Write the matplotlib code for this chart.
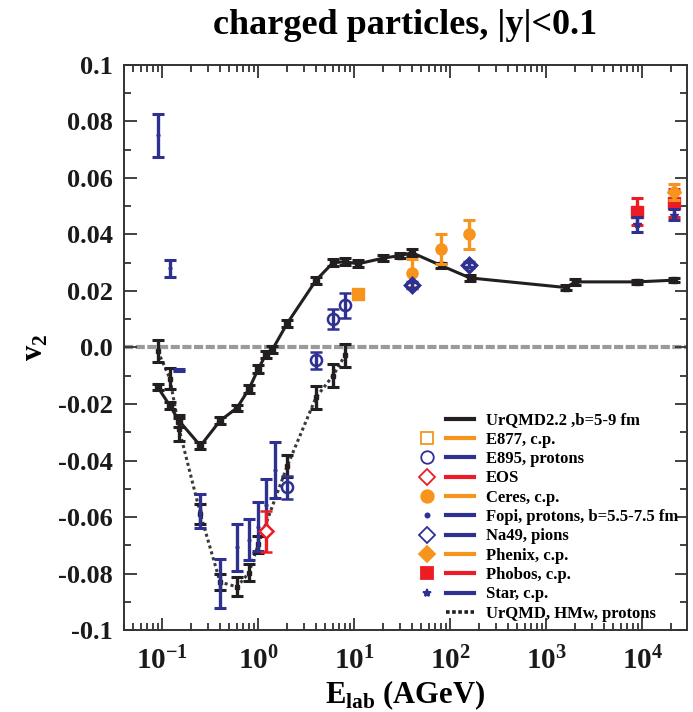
import matplotlib
matplotlib.use("Agg")
import matplotlib.pyplot as plt
from matplotlib.lines import Line2D
from matplotlib.legend_handler import HandlerTuple
from matplotlib.ticker import FuncFormatter, MultipleLocator, LogLocator

plt.rcParams['font.family'] = ['Liberation Serif', 'DejaVu Serif']
plt.rcParams['font.weight'] = 'bold'
plt.rcParams['axes.labelweight'] = 'bold'

BLACK = '#231f20'
BLUE = '#2e3192'
ORANGE = '#f7941d'
RED = '#ed1c24'

# UrQMD 2.2, b=5-9 fm (solid)
urqmd_e = [0.09, 0.12, 0.15, 0.25, 0.4, 0.6, 0.8, 1.0, 1.2, 1.4, 2.0, 4.0, 6.0, 8.0,
           11.0, 20.0, 30.0, 40.0, 80.0, 160.0, 1600.0, 2000.0, 8800.0, 21300.0]
urqmd_v2 = [-0.0141, -0.0206, -0.026, -0.0348, -0.0259, -0.0214, -0.0147, -0.0076,
            -0.0025, -0.0008, 0.0085, 0.0238, 0.0300, 0.0303, 0.0296, 0.0316, 0.0325,
            0.0335, 0.0290, 0.0246, 0.0212, 0.0232, 0.0232, 0.0238]
urqmd_err = [0.0010, 0.0012, 0.0020, 0.0012, 0.0012, 0.0012, 0.0015, 0.0015, 0.0012,
             0.0012, 0.0012, 0.0012, 0.0012, 0.0012, 0.0012, 0.0010, 0.0010, 0.0012,
             0.0010, 0.0010, 0.0010, 0.0010, 0.0008, 0.0008]

# UrQMD, HMw, protons (dotted)
hmw_e = [0.09, 0.12, 0.15, 0.25, 0.4, 0.6, 0.8, 1.0, 2.0, 4.0, 6.0, 8.0]
hmw_v2 = [-0.0013, -0.011, -0.029, -0.059, -0.083, -0.0847, -0.0797, -0.0696,
          -0.042, -0.0176, -0.010, -0.0028]
hmw_err = [0.0038, 0.0038, 0.0040, 0.0035, 0.0027, 0.0034, 0.0030, 0.0030,
           0.0040, 0.0040, 0.0040, 0.0040]

# experiments
fopi_e = [0.09, 0.12, 0.15, 0.25, 0.4, 0.6, 0.8, 1.0, 1.2, 1.5]
fopi_v2 = [0.075, 0.028, -0.008, -0.058, -0.0835, -0.0707, -0.068, -0.0634, -0.0557, -0.0433]
fopi_err = [0.0075, 0.003, 0.0005, 0.006, 0.0086, 0.0084, 0.0073, 0.0086, 0.0092, 0.0098]

eos_e = [1.2]
eos_v2 = [-0.065]
eos_err = [0.0072]

e895_e = [2.0, 4.0, 6.0, 8.0]
e895_v2 = [-0.0495, -0.0046, 0.0102, 0.0149]
e895_err = [0.004, 0.003, 0.0035, 0.0045]

e877_e = [11.0]
e877_v2 = [0.019]
e877_err = [0.001]

ceres_e = [40.0, 80.0, 158.0]
ceres_v2 = [0.0264, 0.035, 0.040]
ceres_err = [0.005, 0.0053, 0.005]

na49_e = [40.0, 158.0]
na49_v2 = [0.022, 0.0293]
na49_err = [0.001, 0.001]

phenix_e = [21300.0]
phenix_v2 = [0.055]
phenix_err = [0.003]

phobos_e = [8800.0, 21300.0]
phobos_v2 = [0.048, 0.0512]
phobos_err = [0.0048, 0.005]

star_e = [8800.0, 21300.0]
star_v2 = [0.0435, 0.047]
star_err = [0.0025, 0.002]

fig = plt.figure(figsize=(6.93, 7.12), dpi=100)
ax = fig.add_axes([0.179, 0.115, 0.812, 0.794])

ax.axhline(0, color='#9a9a9a', lw=3, dashes=(2.2, 0.6), zorder=1)

eb = dict(elinewidth=2.4, capsize=4, capthick=2.2, ls='none')

ax.plot(hmw_e, hmw_v2, ls=(0, (1, 1)), lw=2.2, color='#3a3a3a', zorder=2)
ax.errorbar(hmw_e, hmw_v2, yerr=hmw_err, fmt='s', ms=3.5, color=BLACK, zorder=3, **eb)
ax.plot(urqmd_e, urqmd_v2, ls='-', lw=2.2, color=BLACK, zorder=2)
ax.errorbar(urqmd_e, urqmd_v2, yerr=urqmd_err, fmt='s', ms=4.5, color=BLACK, zorder=3, **eb)

ax.errorbar(fopi_e, fopi_v2, yerr=fopi_err, fmt='o', ms=2, color=BLUE, zorder=4, **eb)
ax.errorbar(eos_e, eos_v2, yerr=eos_err, fmt='D', ms=7, mfc='white', mew=1.8, color=RED, zorder=5, **eb)
ax.errorbar(e895_e, e895_v2, yerr=e895_err, fmt='o', ms=8, mfc='none', mew=1.8, color=BLUE, zorder=4, **eb)
ax.errorbar(e877_e, e877_v2, yerr=e877_err, fmt='s', ms=9, mfc=ORANGE, mec=ORANGE, color=ORANGE, zorder=4, **eb)
ax.errorbar(ceres_e, ceres_v2, yerr=ceres_err, fmt='o', ms=8, color=ORANGE, zorder=4, **eb)
ax.errorbar(na49_e, na49_v2, yerr=na49_err, fmt='D', ms=7, mfc='none', mew=2.5, color=BLUE, zorder=4, **eb)
ax.errorbar(phobos_e, phobos_v2, yerr=phobos_err, fmt='s', ms=8, color=RED, zorder=4, **eb)
ax.errorbar(phenix_e, phenix_v2, yerr=phenix_err, fmt='D', ms=7, color=ORANGE, zorder=5, **eb)
ax.errorbar(star_e, star_v2, yerr=star_err, fmt='*', ms=6, color=BLUE, zorder=6, **eb)

ax.set_xscale('log')
ax.set_xlim(0.04, 29000)
ax.set_ylim(-0.1, 0.1)
ax.yaxis.set_major_locator(MultipleLocator(0.02))
ax.yaxis.set_minor_locator(MultipleLocator(0.01))
ax.xaxis.set_major_locator(LogLocator(base=10, numticks=20))
ax.xaxis.set_minor_locator(LogLocator(base=10, subs=range(2, 10), numticks=20))


def yfmt(v, pos):
    if abs(v) < 1e-9:
        return '0.0'
    if abs(abs(v) - 0.1) < 1e-9:
        return '%.1f' % v
    return '%.2f' % v


ax.yaxis.set_major_formatter(FuncFormatter(yfmt))
ax.tick_params(which='both', direction='in', top=True, right=True, width=1.3, colors='#333333',
               labelcolor='#1a1a1a')
ax.tick_params(which='major', length=9, labelsize=19, pad=8)
ax.tick_params(which='minor', length=5)
ax.tick_params(axis='x', which='major', labelsize=21, pad=12)
for s in ax.spines.values():
    s.set_linewidth(1.4)
    s.set_color('#333333')

ax.set_ylabel(r'v$_\mathdefault{2}$', fontsize=22, labelpad=6)
ax.set_xlabel(r'E$_\mathdefault{lab}$ (AGeV)', fontsize=22, labelpad=2)
ax.set_title('charged particles, |y|<0.1', fontsize=26, fontweight='bold', pad=22)

# legend: marker column, then coloured line, then text
labels = ['UrQMD2.2 ,b=5-9 fm', 'E877, c.p.', 'E895, protons', 'EOS', 'Ceres, c.p.',
          'Fopi, protons, b=5.5-7.5 fm', 'Na49, pions', 'Phenix, c.p.', 'Phobos, c.p.',
          'Star, c.p.', 'UrQMD, HMw, protons']
leg_colors = [BLACK, ORANGE, BLUE, RED, ORANGE, BLUE, BLUE, ORANGE, RED, BLUE, BLACK]
leg_markers = [None, 's', 'o', 'D', 'o', 'o', 'D', 'D', 's', '*', None]
leg_filled = [False, False, False, False, True, True, False, True, True, True, False]
leg_ms = [0, 9, 9, 8, 9, 3, 8, 8, 9, 6, 0]
leg_ls = ['-'] * 10 + [(0, (1, 0.7))]

handles = []
for c, m, f, ms, ls in zip(leg_colors, leg_markers, leg_filled, leg_ms, leg_ls):
    if m is None:
        mk = Line2D([], [], ls='none', marker='None')
    else:
        mk = Line2D([], [], ls='none', marker=m, ms=ms, color=c,
                    mfc=c if f else 'none', mew=1.3)
    ln = Line2D([], [], color=c, lw=3 if ls == '-' else 2.6, ls=ls)
    handles.append((mk, ln))

ax.legend(handles, labels, handler_map={tuple: HandlerTuple(ndivide=None, pad=0.3)},
          loc='lower right', frameon=False, fontsize=12, handlelength=3.6,
          handletextpad=0.75, labelspacing=0.2, borderaxespad=0.1,
          bbox_to_anchor=(1.0, 0.0))

fig.savefig('out.png', dpi=100)
